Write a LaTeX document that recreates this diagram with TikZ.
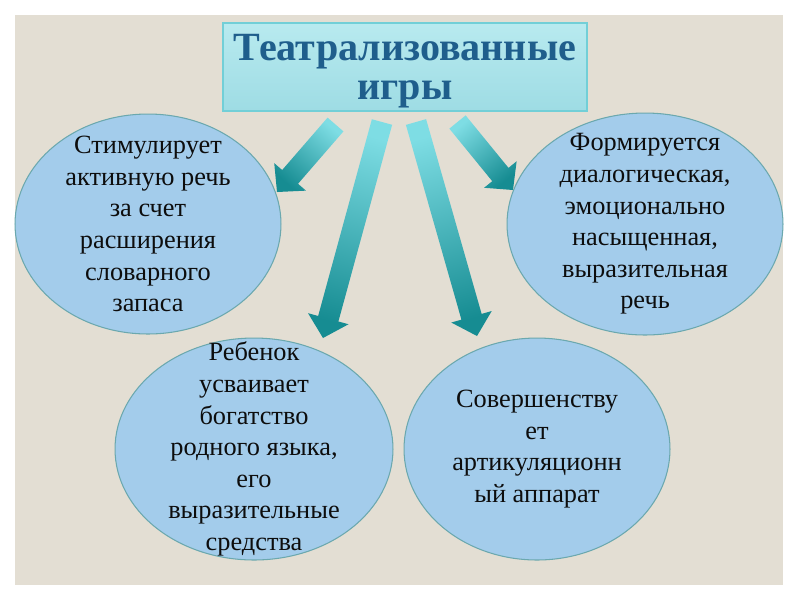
\documentclass[tikz,border=0pt]{standalone}
\usepackage{fontspec}
\setmainfont{Liberation Serif}
\usetikzlibrary{shapes.geometric, calc}
\definecolor{pagebg}{HTML}{E3DED3}
\definecolor{titletop}{HTML}{B8EAEF}
\definecolor{titlebot}{HTML}{9EDCE4}
\definecolor{titleline}{HTML}{72CFD7}
\definecolor{titletext}{HTML}{1F5E8C}
\definecolor{ovalfill}{HTML}{A3CCEB}
\definecolor{ovalline}{HTML}{6BA8AE}
\definecolor{arrowlight}{HTML}{7EDDE4}
\definecolor{arrowmid}{HTML}{2AD0DA}
\definecolor{arrowdark}{HTML}{168C92}

% wide shaded arrow from #1 (tail) to #2 (tip)
\newcommand{\blockarrow}[2]{%
  \pgfmathanglebetweenpoints{\pgfpointanchor{#1}{center}}{\pgfpointanchor{#2}{center}}%
  \pgfmathsetmacro{\shadeang}{\pgfmathresult+90}%
  \coordinate (neck) at ($(#2)!4mm!(#1)$);
  \shade[arrowfill, shading angle=\shadeang]
    ($(#1)!2.1mm!90:(#2)$) -- ($(neck)!2.1mm!90:(#2)$) -- ($(neck)!4.2mm!90:(#2)$) -- (#2)
    -- ($(neck)!4.2mm!-90:(#2)$) -- ($(neck)!2.1mm!-90:(#2)$) -- ($(#1)!2.1mm!-90:(#2)$) -- cycle;
}

\begin{document}
\begin{tikzpicture}[x=0.02cm, y=-0.02cm,
    every node/.style={font=\fontsize{15}{18}\selectfont},
    oval/.style={ellipse, draw=ovalline, fill=ovalfill, line width=0.6pt, inner sep=0pt},
    ovaltext/.style={align=center, text=black!95, inner sep=0pt},
    titlebox/.style={rectangle, draw=titleline, line width=1pt, top color=titletop, bottom color=titlebot, minimum width=7.28cm, minimum height=1.76cm, align=center, text=titletext, text depth=0pt, font=\bfseries\fontsize{22.8}{22.5}\selectfont},
    arrowfill/.style={top color=arrowlight, middle color=arrowmid, bottom color=arrowdark}
]
\useasboundingbox (0,0) rectangle (800,600);
\fill[pagebg] (15,15) rectangle (783,585);

% --- title ---
\node[titlebox] (ttl) at (405,67) {Театрализованные\\игры};

% --- ovals ---
\node[oval, minimum width=5.32cm, minimum height=4.4cm] (speech) at (148,224) {};
\node[oval, minimum width=5.52cm, minimum height=4.44cm] (dialog) at (645,224) {};
\node[oval, minimum width=5.56cm, minimum height=4.44cm] (lang) at (254,449) {};
\node[oval, minimum width=5.32cm, minimum height=4.44cm] (artic) at (537,449) {};

\node[ovaltext] (speecht) at (speech) {Стимулирует\\активную речь\\за счет\\расширения\\словарного\\запаса};
\node[ovaltext] (dialogt) at (dialog) {Формируется\\диалогическая,\\эмоционально\\насыщенная,\\выразительная\\речь};
\node[ovaltext] (langt) at (lang) {Ребенок\\усваивает\\богатство\\родного языка,\\его\\выразительные\\средства};
\node[ovaltext] (artict) at (artic) {Совершенству\\ет\\артикуляционн\\ый аппарат};

% --- arrows ---
\coordinate (s1) at (335.5,124.5); \coordinate (e1) at (277,192);
\coordinate (s2) at (382,122);     \coordinate (e2) at (323,338);
\coordinate (s3) at (416,122);     \coordinate (e3) at (477,336);
\coordinate (s4) at (457.5,122);   \coordinate (e4) at (513,190);
\blockarrow{s1}{e1}
\blockarrow{s2}{e2}
\blockarrow{s3}{e3}
\blockarrow{s4}{e4}
\end{tikzpicture}
\end{document}
